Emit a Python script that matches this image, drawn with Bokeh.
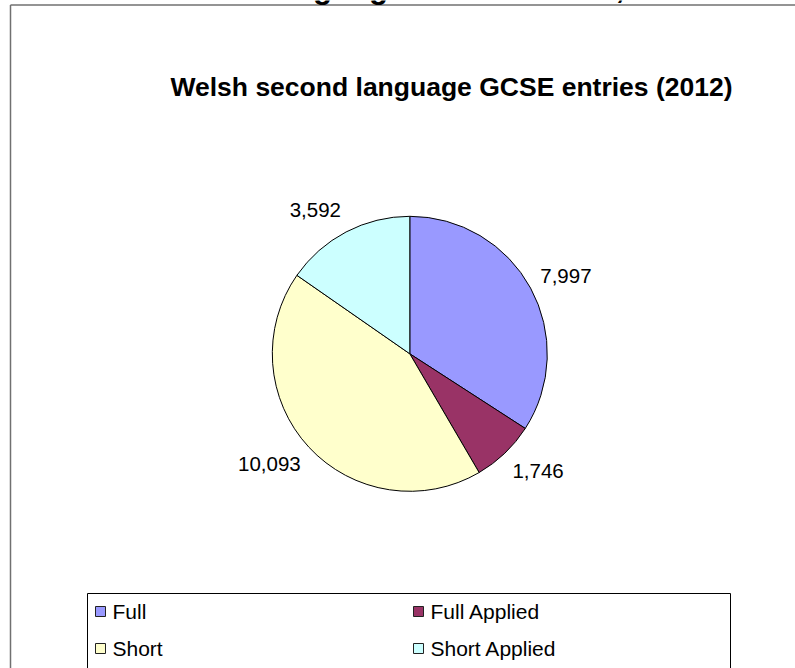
import numpy as np
from bokeh.plotting import figure
from bokeh.models import Range1d, ColumnDataSource, Label
from bokeh.embed import file_html
from bokeh.resources import INLINE
from bokeh.core.properties import value

# ---- data ----
categories = ["Full", "Full Applied", "Short", "Short Applied"]
entries = [7997, 1746, 10093, 3592]
colors = ["#9999FF", "#993366", "#FFFFCC", "#CCFFFF"]
chart_title = "Welsh second language GCSE entries (2012)"
page_header = "Welsh second language GCSE entries, 2012"

# ---- layout ----
W, H = 795, 668
FONT = "Liberation Sans"


def Y(y):
    return H - y


p = figure(width=W, height=H, x_range=Range1d(0, W), y_range=Range1d(0, H),
           toolbar_location=None, output_backend="svg",
           x_axis_location=None, y_axis_location=None, min_border=0)
p.xgrid.visible = False
p.ygrid.visible = False
p.outline_line_color = None
p.background_fill_color = "white"
p.border_fill_color = "white"
p.styles = {"position": "absolute", "left": "0px", "top": "0px"}

# clipped header of the page above (only descenders visible)
p.add_layout(Label(x=47, y=Y(-13.1), text=page_header, text_font=FONT,
                   text_font_size="31.5px", text_font_style="bold",
                   text_align="left", text_baseline="middle",
                   text_color="black"))

# chart area frame (gray)
p.multi_line(xs=[[10, 820], [10, 10]], ys=[[Y(4.5), Y(4.5)], [Y(4.5), Y(700)]],
             line_color="#707070", line_width=1.5)

# chart title
p.text(x=[451], y=[Y(86.5)], text=[chart_title], text_font=value(FONT),
       text_font_size="26.5px", text_font_style="bold", text_align="center",
       text_baseline="middle", text_color="black")

# pie
cx, cy, R = 409.3, 353.3, 137.5
vals = np.array(entries, dtype=float)
frac = vals / vals.sum()
cum = np.concatenate([[0.0], np.cumsum(frac)])
start = np.pi / 2 - cum[:-1] * 2 * np.pi
end = np.pi / 2 - cum[1:] * 2 * np.pi
src = ColumnDataSource(dict(start=start, end=end, color=colors))
p.wedge(x=cx, y=Y(cy), radius=R, start_angle="start", end_angle="end",
        direction="clock", fill_color="color", line_color="black",
        line_width=1, source=src)

# data labels (outside end): label box touches the point just outside the rim
lab_fs = 20.5
mid = (start + end) / 2
dx, dy = np.cos(mid), np.sin(mid)
texts = ["{:,}".format(v) for v in entries]
widths = np.array([lab_fs * (0.556 * sum(c.isdigit() for c in t) + 0.278 * t.count(","))
                   for t in texts])
gap = 11
lx = cx + dx * (R + gap) + np.sign(dx) * widths / 2
ly = Y(cy) + dy * (R + gap) + dy * 14
p.text(x=lx, y=ly, text=texts, text_font=value(FONT),
       text_font_size=f"{lab_fs}px", text_align="center",
       text_baseline="middle", text_color="black")

# legend
col_x = [95, 413]
row_y = [611, 648]
p.quad(left=[87], right=[730], top=[Y(593)], bottom=[Y(700)],
       fill_color=None, line_color="black", line_width=1)
mx, my, tx = [], [], []
for i, c in enumerate(categories):
    col, row = i % 2, i // 2
    mx.append(col_x[col] + 5)
    my.append(Y(row_y[row]))
    tx.append(col_x[col] + 17)
p.rect(x=mx, y=my, width=10, height=10, fill_color=colors,
       line_color="#222222", line_width=1)
p.text(x=tx, y=my, text=categories, text_font=value(FONT),
       text_font_size="21px", text_align="left", text_baseline="middle",
       text_color="black")

open("out.html", "w").write(file_html(p, INLINE))
